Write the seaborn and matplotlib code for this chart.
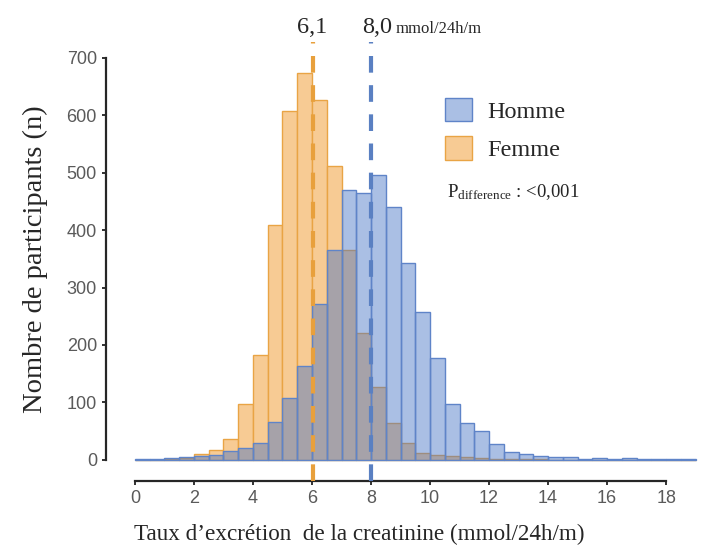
import numpy as np
import pandas as pd
import matplotlib
matplotlib.use("Agg")
import matplotlib.pyplot as plt
import seaborn as sns
from matplotlib.patches import Patch
from matplotlib.transforms import blended_transform_factory

# Bin centres of the histogram (mmol/24h/m), width 0.5, from 0 to 19
bin_width = 0.5
centres = np.arange(0.25, 19, bin_width)

# Number of participants per bin
homme = [1, 1, 3, 4, 6, 9, 15, 20, 30, 65, 107, 164, 271, 365, 470, 465,
         496, 440, 343, 258, 178, 98, 64, 50, 28, 14, 10, 7, 5, 4, 2, 3,
         2, 3, 2, 1, 2, 2]
femme = [0, 0, 1, 3, 10, 17, 36, 97, 183, 409, 608, 673, 627, 511, 365, 221,
         127, 64, 30, 12, 8, 6, 4, 3, 2, 1, 1, 1, 0, 0, 0, 0,
         0, 0, 0, 0, 0, 0]

# Medians per sex
median_femme = 6.05
median_homme = 8.0

x_ticks = [0, 2, 4, 6, 8, 10, 12, 14, 16, 18]
y_ticks = [0, 100, 200, 300, 400, 500, 600, 700]

df = pd.DataFrame({
    'taux': np.concatenate([centres, centres]),
    'n': homme + femme,
    'sexe': ['Homme'] * len(centres) + ['Femme'] * len(centres),
})

sns.set_style('ticks')
plt.rcParams['font.family'] = ['Liberation Serif', 'DejaVu Serif']
plt.rcParams['mathtext.fontset'] = 'custom'
plt.rcParams['mathtext.rm'] = 'Liberation Serif'
plt.rcParams['mathtext.it'] = 'Liberation Serif:italic'

orange_face = '#f7cb94'
orange_edge = '#e9a445'
blue = '#4472c4'
blue_edge = '#5f84c8'

fig = plt.figure(figsize=(7.24, 5.51), dpi=100)
ax = fig.add_axes([0.1464, 0.127, 0.8206, 0.797])

# Femme first (opaque), Homme over it (transparent) -> grey overlap
sns.histplot(data=df[df['sexe'] == 'Femme'], x='taux', weights='n',
             binwidth=bin_width, binrange=(0, 19),
             facecolor=orange_face, edgecolor=orange_edge, linewidth=1.0, ax=ax)
sns.histplot(data=df[df['sexe'] == 'Homme'], x='taux', weights='n',
             binwidth=bin_width, binrange=(0, 19),
             facecolor=matplotlib.colors.to_rgba(blue, 0.45),
             edgecolor=blue_edge, linewidth=1.0, ax=ax)

ax.axvline(median_femme, color='#e8a03c', lw=3, dashes=(4, 3), zorder=5)
ax.axvline(median_homme, color='#5a80c2', lw=3, dashes=(4, 3), zorder=5)

ax.set_xlim(-0.98, 19.15)
ax.set_ylim(-37, 728)
ax.set_xticks(x_ticks)
ax.set_yticks(y_ticks)
ax.spines['left'].set_bounds(0, 700)
ax.spines['bottom'].set_bounds(0, 18)
ax.spines['left'].set_linewidth(1.6)
ax.spines['bottom'].set_linewidth(1.6)
sns.despine(ax=ax)
ax.tick_params(axis='both', direction='out', length=3, width=1.3,
               colors='#222222', labelcolor='#5a5a5a', labelsize=13)
for lab in ax.get_xticklabels() + ax.get_yticklabels():
    lab.set_family(['Liberation Sans', 'DejaVu Sans'])

ax.set_xlabel('Taux d\u2019excrétion  de la creatinine (mmol/24h/m)', fontsize=16.7)
ax.set_ylabel('Nombre de participants (n)', fontsize=20.5)
ax.xaxis.set_label_coords(0.426, -0.098)
ax.yaxis.set_label_coords(-0.098, 0.505)

# Median labels above the plot
trans = blended_transform_factory(ax.transData, ax.transAxes)
ax.text(6.0, 1.0205, '6,1', transform=trans, ha='center', va='baseline',
        fontsize=17.5, clip_on=False)
ax.text(7.69, 1.0205, '8,0', transform=trans, ha='left', va='baseline',
        fontsize=17.5, clip_on=False)
ax.text(8.84, 1.0205, 'mmol/24h/m', transform=trans, ha='left', va='baseline',
        fontsize=12, clip_on=False)

# Legend
handles = [Patch(facecolor=matplotlib.colors.to_rgba(blue, 0.45), edgecolor=blue_edge, label='Homme'),
           Patch(facecolor=orange_face, edgecolor=orange_edge, label='Femme')]
ax.legend(handles=handles, loc='upper left', bbox_to_anchor=(0.5707, 0.872),
          frameon=False, fontsize=17.5, handlelength=1.1, handleheight=1.1,
          handletextpad=0.65, labelspacing=0.55, borderpad=0, borderaxespad=0)

ax.text(0.574, 0.647, r'P$_{\rm difference}$ : <0,001', transform=ax.transAxes,
        ha='left', va='baseline', fontsize=13.5)

plt.savefig('out.png', dpi=100)
